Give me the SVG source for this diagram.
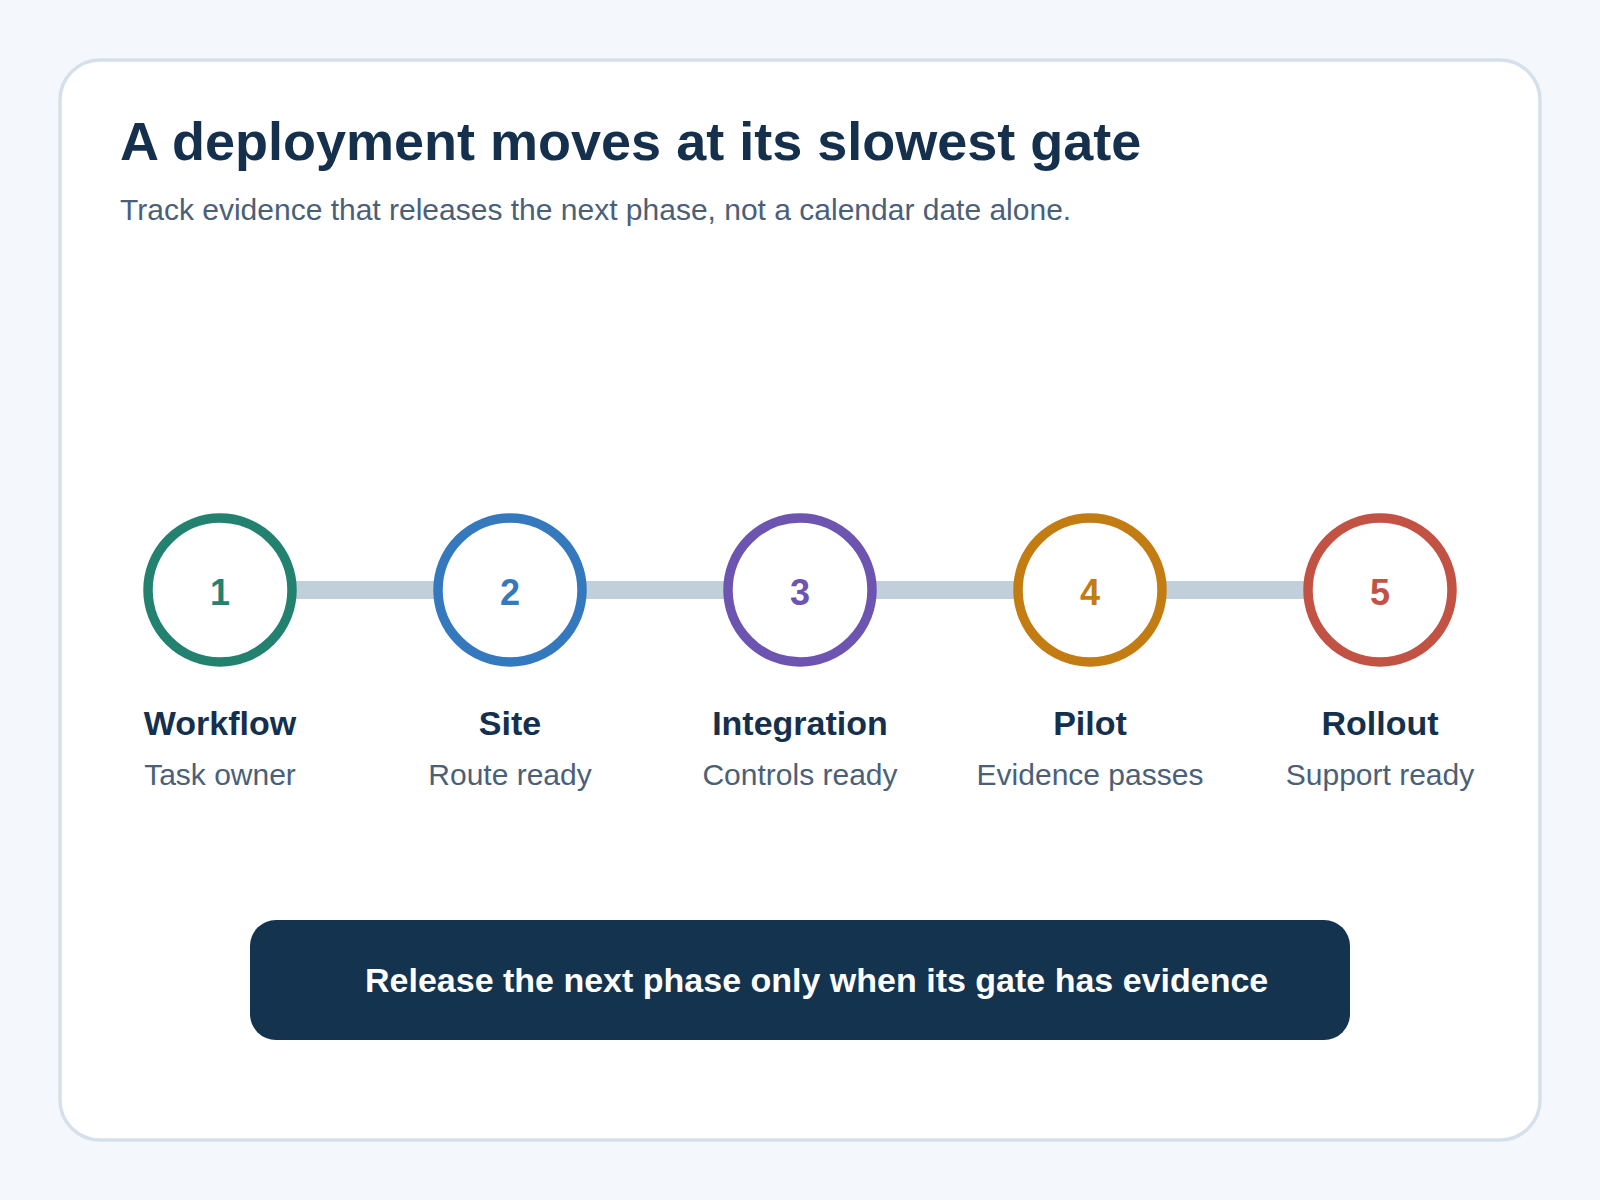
<svg xmlns="http://www.w3.org/2000/svg" width="1600" height="1200" viewBox="0 0 1600 1200">
<style>
.title{font-family:"Liberation Sans",Arial,sans-serif;font-weight:700;font-size:54px;fill:#14304d}
.sub{font-family:"Liberation Sans",Arial,sans-serif;font-size:30px;fill:#4a6078}
.num{font-family:"Liberation Sans",Arial,sans-serif;font-weight:700;font-size:36px;text-anchor:middle}
.lbl{font-family:"Liberation Sans",Arial,sans-serif;font-weight:700;font-size:34px;fill:#14304d;text-anchor:middle}
.note{font-family:"Liberation Sans",Arial,sans-serif;font-size:30px;fill:#4a6078;text-anchor:middle}
.ring{fill:#ffffff;stroke-width:9.5}
.conn{stroke:#c1cfda;stroke-width:18;fill:none}
.banner{font-family:"Liberation Sans",Arial,sans-serif;font-weight:700;font-size:34px;fill:#ffffff}
</style>
<rect x="0" y="0" width="1600" height="1200" fill="#f4f7fb"/>
<rect x="60" y="60" width="1480" height="1080" rx="40" fill="#ffffff" stroke="#d6e0eb" stroke-width="3.5"/>
<text class="title" x="120" y="160">A deployment moves at its slowest gate</text>
<text class="sub" x="120" y="220">Track evidence that releases the next phase, not a calendar date alone.</text>
<g id="connectors">
<line class="conn" x1="292" y1="590" x2="438" y2="590"/>
<line class="conn" x1="582" y1="590" x2="728" y2="590"/>
<line class="conn" x1="872" y1="590" x2="1018" y2="590"/>
<line class="conn" x1="1162" y1="590" x2="1308" y2="590"/>
</g>
<g id="node-1">
<circle class="ring" cx="220" cy="590" r="72" stroke="#23826f"/>
<text class="num" x="220" y="605" fill="#23826f">1</text>
<text class="lbl" x="220" y="735">Workflow</text>
<text class="note" x="220" y="785">Task owner</text>
</g>
<g id="node-2">
<circle class="ring" cx="510" cy="590" r="72" stroke="#3478bd"/>
<text class="num" x="510" y="605" fill="#3478bd">2</text>
<text class="lbl" x="510" y="735">Site</text>
<text class="note" x="510" y="785">Route ready</text>
</g>
<g id="node-3">
<circle class="ring" cx="800" cy="590" r="72" stroke="#6c54b0"/>
<text class="num" x="800" y="605" fill="#6c54b0">3</text>
<text class="lbl" x="800" y="735">Integration</text>
<text class="note" x="800" y="785">Controls ready</text>
</g>
<g id="node-4">
<circle class="ring" cx="1090" cy="590" r="72" stroke="#c27c12"/>
<text class="num" x="1090" y="605" fill="#c27c12">4</text>
<text class="lbl" x="1090" y="735">Pilot</text>
<text class="note" x="1090" y="785">Evidence passes</text>
</g>
<g id="node-5">
<circle class="ring" cx="1380" cy="590" r="72" stroke="#c25244"/>
<text class="num" x="1380" y="605" fill="#c25244">5</text>
<text class="lbl" x="1380" y="735">Rollout</text>
<text class="note" x="1380" y="785">Support ready</text>
</g>
<g id="banner">
<rect x="250" y="920" width="1100" height="120" rx="26" fill="#14334f"/>
<text class="banner" x="365" y="992">Release the next phase only when its gate has evidence</text>
</g>
</svg>
